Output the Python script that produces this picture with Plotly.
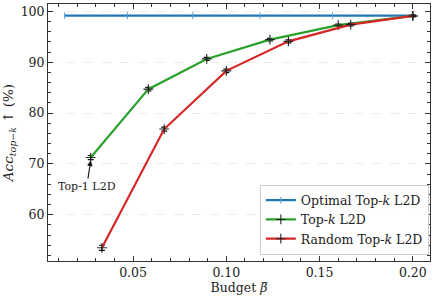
import plotly.graph_objects as go

# Data
opt_x = [0.0133, 0.047, 0.082, 0.118, 0.157, 0.200]
opt_y = [99.15, 99.15, 99.15, 99.15, 99.15, 99.15]

topk_x = [0.0273, 0.0582, 0.0895, 0.1234, 0.160, 0.200]
topk_y = [71.25, 84.7, 90.65, 94.45, 97.3, 99.1]
topk_err = [0.4, 0.35, 0.3, 0.25, 0.2, 0.15]

rand_x = [0.0333, 0.0667, 0.100, 0.1333, 0.1667, 0.200]
rand_y = [53.5, 76.85, 88.3, 94.1, 97.4, 99.1]
rand_err = [0.5, 0.4, 0.35, 0.3, 0.25, 0.15]

FONT = "DejaVu Serif"
FS = 12.5

fig = go.Figure()
fig.add_trace(go.Scatter(
    x=opt_x, y=opt_y, mode="lines+markers", name="Optimal Top-<i>k</i> L2D",
    line=dict(color="#1f77b4", width=2.2),
    marker=dict(symbol="line-ns", size=5, color="#5fa2d6", line=dict(width=1, color="#5fa2d6")),
))
fig.add_trace(go.Scatter(
    x=topk_x, y=topk_y, mode="lines+markers", name="Top-<i>k</i> L2D",
    line=dict(color="#2ca02c", width=2.2),
    marker=dict(symbol="cross-thin", size=7, color="#222", line=dict(width=1.1, color="#222")),
    error_y=dict(type="data", array=topk_err, color="#111", thickness=1.2, width=3),
))
fig.add_trace(go.Scatter(
    x=rand_x, y=rand_y, mode="lines+markers", name="Random Top-<i>k</i> L2D",
    line=dict(color="#d62728", width=2.2),
    marker=dict(symbol="cross-thin", size=7, color="#222", line=dict(width=1.1, color="#222")),
    error_y=dict(type="data", array=rand_err, color="#111", thickness=1.2, width=3),
))

fig.add_annotation(
    x=topk_x[0], y=topk_y[0] - 0.6, xref="x", yref="y",
    text="Top-1 L2D", showarrow=True, arrowhead=2, arrowsize=1, arrowwidth=1.1,
    arrowcolor="#111", ax=-4, ay=26, font=dict(family=FONT, size=11, color="#222"),
)

axis_common = dict(
    showline=True, linecolor="#333", linewidth=1, mirror="ticks",
    ticks="inside", ticklen=5, tickwidth=1, tickcolor="#333",
    tickfont=dict(family=FONT, size=FS, color="#222"),
    zeroline=False,
)
fig.update_xaxes(
    **axis_common, range=[0.0044, 0.2092], tickvals=[0.05, 0.10, 0.15, 0.20],
    ticktext=["0.05", "0.10", "0.15", "0.20"], showgrid=False,
    minor=dict(ticks="inside", ticklen=3, dtick=0.01, tick0=0, tickcolor="#333", showgrid=False),
    title=dict(text="Budget <i>β̅</i>", font=dict(family=FONT, size=FS, color="#222"), standoff=4),
)
fig.update_yaxes(
    **axis_common, range=[50.9, 101.45], tickvals=[60, 70, 80, 90, 100],
    showgrid=True, gridcolor="#ebebeb", griddash="dash", gridwidth=1,
    minor=dict(ticks="inside", ticklen=3, dtick=2, tick0=0, tickcolor="#333", showgrid=False),
    title=dict(text="<i>Acc</i><sub><i>top−k</i></sub> ↑ (%)", font=dict(family=FONT, size=13.5, color="#222"), standoff=5),
)

fig.update_layout(
    width=434, height=301,
    margin=dict(l=48, r=4, t=4, b=40),
    plot_bgcolor="white", paper_bgcolor="white",
    font=dict(family=FONT, size=FS, color="#222"),
    legend=dict(
        x=0.997, y=0.025, xanchor="right", yanchor="bottom",
        bgcolor="rgba(255,255,255,0.9)", bordercolor="#cccccc", borderwidth=1,
        font=dict(family=FONT, size=FS, color="#222"),
        itemwidth=30, tracegroupgap=0,
    ),
    showlegend=True,
)

fig.write_html("out.html", post_script="document.body.style.margin='0';",
               config={"displayModeBar": False})
